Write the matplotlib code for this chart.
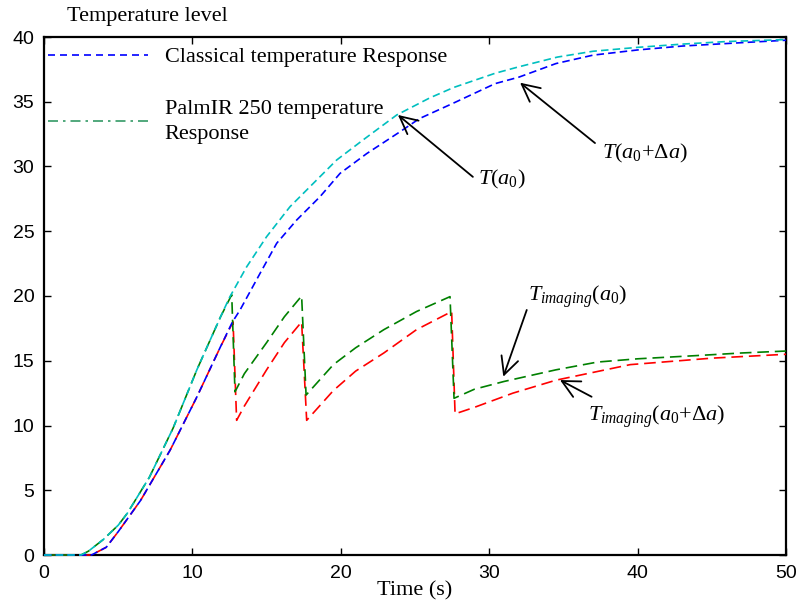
import matplotlib
matplotlib.use("Agg")
import matplotlib.pyplot as plt
from matplotlib.lines import Line2D

# ---------------- data ----------------
# T(a0): classical response (cyan)
t_a0 = [0, 2.5, 3, 4, 5, 5.6, 7.1, 8.7, 10.3, 11.9, 12.53, 13.66, 15.0, 16.58, 18.15,
        19.72, 21.5, 23.77, 26, 27.6, 30.4, 32, 34.6, 37, 40, 43, 46, 50]
T_a0 = [0, 0, 0.3, 1.2, 2.3, 3.2, 6.0, 9.8, 14.3, 18.4, 19.95, 22.26, 24.58, 26.9, 28.7,
        30.5, 32.05, 33.98, 35.3, 36.1, 37.2, 37.7, 38.45, 38.9, 39.2, 39.45, 39.65, 39.8]

# T(a0+da): (blue)
t_a1 = [0, 3.2, 4.2, 5, 6.5, 8.5, 10.3, 11.9, 12.7, 13.2, 14.56, 15.68, 17.03, 18.6,
        19.95, 21.75, 24.0, 25.3, 27.6, 30.4, 32, 34.5, 37, 40, 43, 47.6, 50]
T_a1 = [0, 0, 0.6, 1.8, 4.2, 8.1, 12.2, 16.1, 18.0, 18.9, 21.75, 24.07, 25.87, 27.67,
        29.47, 31.0, 32.69, 33.7, 34.9, 36.4, 36.9, 37.95, 38.6, 39.0, 39.3, 39.6, 39.75]

# T_imaging(a0): (green)
t_img0 = [0, 2.5, 3, 4, 5, 5.6, 7.1, 8.7, 10.3, 11.9, 12.65, 12.87, 13.5, 15.0, 16.2, 17.36,
          17.66, 19.5, 21, 22.9, 25.1, 27.36, 27.63, 29, 31, 34.5, 37.3, 40, 44, 47, 50]
T_img0 = [0, 0, 0.3, 1.2, 2.3, 3.2, 6.0, 9.8, 14.3, 18.4, 20.1, 12.6, 14.0, 16.4, 18.4, 20.0,
          12.35, 14.7, 16.0, 17.4, 18.8, 19.95, 12.1, 12.8, 13.4, 14.3, 14.9, 15.15, 15.4, 15.6, 15.75]

# T_imaging(a0+da): (red)
t_img1 = [0, 3.2, 4.2, 5, 6.5, 8.5, 10.3, 11.9, 12.74, 12.98, 13.5, 15.0, 16.2, 17.36,
          17.7, 19.5, 21, 22.9, 25.1, 27.47, 27.7, 29, 31.6, 34.5, 39.5, 45, 50]
T_img1 = [0, 0, 0.6, 1.8, 4.2, 8.1, 12.2, 16.1, 18.0, 10.4, 11.5, 14.3, 16.4, 18.0,
          10.4, 12.7, 14.2, 15.6, 17.4, 18.8, 10.9, 11.4, 12.5, 13.5, 14.7, 15.2, 15.5]

legend_labels = ["Classical temperature Response", "PalmIR 250 temperature\nResponse"]
x_ticks = [0, 10, 20, 30, 40, 50]
y_ticks = [0, 5, 10, 15, 20, 25, 30, 35, 40]

# ---------------- style ----------------
plt.rcParams['mathtext.fontset'] = 'custom'
plt.rcParams['mathtext.rm'] = 'Liberation Serif'
plt.rcParams['mathtext.it'] = 'Liberation Serif:italic'
plt.rcParams['mathtext.bf'] = 'Liberation Serif:bold'

serif = 'Liberation Serif'
sans = 'Liberation Sans'

fig = plt.figure(figsize=(8, 6.09), dpi=100)
ax = fig.add_axes([44/800, 1-555/609, 742/800, 518/609])

lw = 1.2
short = (4.5, 2.5)
long_ = (7, 3.5)
common = dict(lw=lw, zorder=3, clip_on=False)
ax.plot(t_img1, T_img1, color='#FF0000', dashes=long_, **common)
ax.plot(t_img0, T_img0, color='#008000', dashes=long_, **common)
ax.plot(t_a1, T_a1, color='#0000FF', dashes=short, **common)
ax.plot(t_a0, T_a0, color='#00BFBF', dashes=short, **common)

ax.set_xlim(0, 50)
ax.set_ylim(0, 40)
ax.set_xticks(x_ticks)
ax.set_yticks(y_ticks)
ax.tick_params(direction='in', top=True, right=True, length=5, width=1,
               labelsize=14, pad=7)
for lab in ax.get_xticklabels() + ax.get_yticklabels():
    lab.set_fontfamily(sans)
for s in ax.spines.values():
    s.set_linewidth(1.6)

ax.set_xlabel("Time (s)", fontsize=16, family=serif, labelpad=0)
ax.text(0.031, 1.0405, "Temperature level", transform=ax.transAxes,
        fontsize=16, family=serif, ha='left', va='center')

# legend (proxy handles as in the reference)
h1 = Line2D([], [], color='#0000FF', lw=1.2, dashes=(4.2, 3))
h2 = Line2D([], [], color='#339966', lw=1.2, dashes=(6, 3, 1.5, 3))
leg = ax.legend([h1, h2], legend_labels, loc='upper left', bbox_to_anchor=(0.005, 0.981),
                frameon=False, borderpad=0, borderaxespad=0, handlelength=4.5,
                handletextpad=0.77, labelspacing=1.45, prop={'family': serif, 'size': 16})
for t in leg.get_texts():
    t.set_linespacing(1.45)

# annotations
arrow = dict(arrowstyle='->,head_length=0.7,head_width=0.35', color='black', lw=1.3,
             shrinkA=0, shrinkB=0, mutation_scale=18)
ax.annotate('', xy=(23.85, 33.98), xytext=(28.9, 29.2), arrowprops=arrow)
ax.text(29.25, 28.96, r'$T(a_0)$', fontsize=16, ha='left', va='center')

ax.annotate('', xy=(32.08, 36.47), xytext=(37.13, 31.81), arrowprops=arrow)
ax.text(37.6, 31.04, r'$T(a_0{+}\Delta a)$', fontsize=16, ha='left', va='center')

ax.annotate('', xy=(30.95, 13.77), xytext=(32.53, 18.92), arrowprops=arrow)
ax.text(32.6, 19.92, r'$T_{imaging}(a_0)$', fontsize=16, ha='left', va='center')

ax.annotate('', xy=(34.77, 13.51), xytext=(36.9, 12.22), arrowprops=arrow)
ax.text(36.66, 10.66, r'$T_{imaging}(a_0{+}\Delta a)$', fontsize=16, ha='left', va='center')

fig.savefig("out.png", dpi=100)
